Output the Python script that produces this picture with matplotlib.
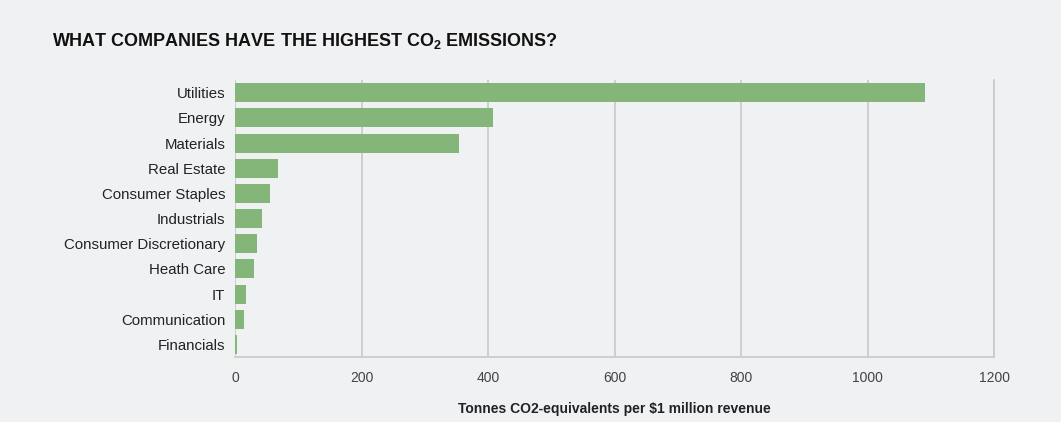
import numpy as np
import matplotlib.pyplot as plt

plt.rcParams['font.family'] = ['Liberation Sans', 'DejaVu Sans']
plt.rcParams['mathtext.default'] = 'regular'

sectors = ['Utilities', 'Energy', 'Materials', 'Real Estate', 'Consumer Staples',
           'Industrials', 'Consumer Discretionary', 'Heath Care', 'IT',
           'Communication', 'Financials']
emissions = [1091, 408, 354, 68, 56, 43, 35, 30, 17, 14, 3]
xticks = [0, 200, 400, 600, 800, 1000, 1200]

bg = '#f0f1f3'
green = '#84b679'
grid = '#c9c9c9'

fig = plt.figure(figsize=(10.61, 4.22), dpi=100, facecolor=bg)
ax = fig.add_axes([0.2215, 0.154, 0.7154, 0.656])
ax.set_facecolor(bg)

y = np.arange(len(sectors))
ax.barh(y, emissions, height=0.76, color=green, zorder=2)
ax.set_ylim(len(sectors) - 0.5, -0.5)
ax.set_xlim(0, 1200)
ax.set_yticks(y)
ax.set_yticklabels(sectors, fontsize=10.8, color='#222222')
ax.set_xticks(xticks)
ax.set_xticklabels([str(t) for t in xticks], fontsize=10, color='#444444')
ax.tick_params(axis='both', length=0)
ax.tick_params(axis='y', pad=7)
ax.tick_params(axis='x', pad=10)

ax.grid(axis='x', color=grid, lw=1.2, zorder=0)
for s in ['top', 'left']:
    ax.spines[s].set_visible(False)
for s in ['bottom', 'right']:
    ax.spines[s].set_color(grid)
    ax.spines[s].set_linewidth(1.2)

ax.set_xlabel(r'Tonnes CO2-equivalents per \$1 million revenue',
              fontsize=10, fontweight='bold', color='#222222', labelpad=12)

fig.text(0.049, 0.903, r'WHAT COMPANIES HAVE THE HIGHEST CO$_{2}$ EMISSIONS?',
         fontsize=13, fontweight='bold', color='#111111', va='center', ha='left')

plt.savefig('out.png', dpi=100, facecolor=bg)
